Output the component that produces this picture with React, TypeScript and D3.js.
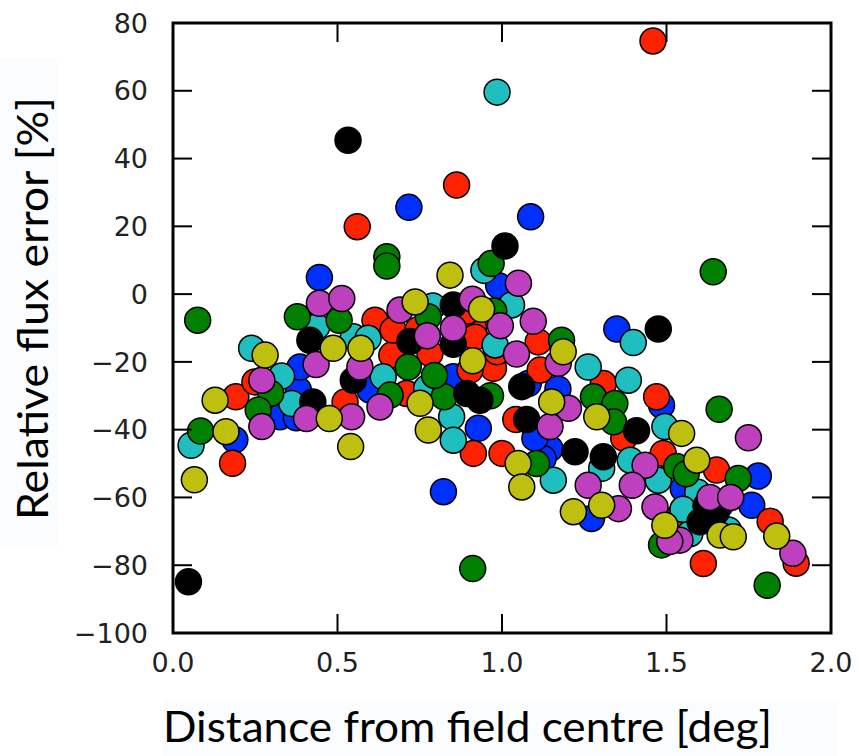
import { useEffect, useRef } from 'react';
import * as d3 from 'd3';

// ticks
const xTicks = [0, 0.5, 1.0, 1.5, 2.0];
const xTickLabels = ['0.0', '0.5', '1.0', '1.5', '2.0'];
const yTicks = [-100, -80, -60, -40, -20, 0, 20, 40, 60, 80];
const yTickLabels = ['−100', '−80', '−60', '−40', '−20', '0', '20', '40', '60', '80'];

// [distance deg, relative flux error %] per field colour
const blue: [number, number][] = [
  [0.717, 25.6], [0.445, 4.9], [1.087, 22.8], [1.349, -10.3], [0.822, -58.3],
  [0.188, -43.0], [0.325, -36.2], [0.381, -28.3], [0.386, -21.5], [0.928, -39.6],
  [0.852, -24.4], [0.99, 2.5], [1.17, -28.0], [1.08, -26.4], [1.485, -32.8],
  [1.146, -45.6], [1.551, -57.4], [1.779, -53.7], [1.759, -62.3], [1.272, -66.2],
  [0.599, -28.3], [1.125, -48.5], [1.1, -42.5], [0.375, -36.5],
];
const red: [number, number][] = [
  [1.459, 74.7], [0.862, 32.2], [0.56, 19.9], [1.612, -79.5], [1.894, -79.4],
  [1.815, -67.0], [1.652, -51.9], [0.181, -49.9], [0.191, -30.3], [0.249, -25.9],
  [0.523, -31.8], [0.71, -29.3], [0.913, -47.0], [0.974, -21.9], [0.903, -22.4],
  [0.781, -17.5], [0.665, -18.0], [0.614, -7.7], [0.669, -10.6], [0.913, -9.6],
  [0.918, -12.7], [1.042, -37.0], [1.11, -14.1], [1.116, -22.4], [1.308, -26.4],
  [1.47, -30.3], [1.37, -42.5], [1.0, -47.0], [1.49, -47.0], [1.54, -65.5],
  [0.895, -5.0], [0.745, -10.5], [0.985, -17.0],
];
const cyan: [number, number][] = [
  [0.985, 59.6], [1.399, -14.3], [0.055, -44.6], [0.239, -16.0], [0.33, -24.2],
  [0.361, -32.3], [0.437, -9.6], [0.548, -12.6], [0.593, -13.0], [0.639, -24.4],
  [0.771, -27.8], [0.847, -36.2], [0.852, -43.1], [0.945, 7.0], [1.029, -3.2],
  [0.79, -3.5], [0.979, -15.0], [1.262, -21.5], [1.384, -25.4], [1.495, -39.1],
  [1.303, -51.4], [1.156, -54.9], [1.475, -54.9], [1.571, -70.7], [1.688, -69.6],
  [1.39, -49.0], [1.595, -58.5], [1.55, -63.5],
];
const green: [number, number][] = [
  [0.65, 11.0], [0.65, 8.3], [0.075, -7.7], [0.967, 9.0], [1.642, 6.6],
  [1.66, -34.0], [1.806, -85.9], [1.718, -54.4], [0.911, -81.0], [0.084, -40.4],
  [0.297, -29.3], [0.259, -34.2], [0.378, -6.7], [0.505, -7.7], [0.66, -29.8],
  [0.824, -30.3], [0.776, -6.7], [0.975, -5.0], [0.715, -21.5], [1.181, -13.6],
  [1.278, -30.3], [1.343, -32.3], [1.339, -37.7], [1.105, -50.0], [1.531, -50.9],
  [1.485, -74.0], [1.56, -53.0], [0.965, -30.0], [0.795, -24.0],
];
const black: [number, number][] = [
  [0.532, 45.4], [1.009, 14.2], [1.475, -10.3], [0.047, -84.9], [0.416, -13.6],
  [0.425, -31.8], [0.548, -25.4], [0.852, -3.2], [0.852, -14.8], [0.933, -31.3],
  [0.72, -14.0], [1.075, -37.0], [1.06, -27.3], [1.409, -40.3], [1.222, -46.5],
  [1.308, -48.0], [1.652, -64.2], [1.602, -67.2], [1.62, -62.5], [1.665, -62.0],
  [0.893, -29.3],
];
const magenta: [number, number][] = [
  [1.749, -42.4], [1.884, -76.5], [0.27, -25.4], [0.27, -39.1], [0.435, -20.8],
  [0.406, -36.7], [0.543, -36.2], [0.445, -2.7], [0.513, -1.3], [0.568, -21.5],
  [0.629, -33.3], [0.69, -4.7], [0.852, -10.1], [0.91, -1.5], [1.05, 3.2],
  [0.995, -9.3], [1.044, -17.7], [0.773, -12.3], [1.095, -8.0], [1.171, -20.4],
  [1.202, -33.7], [1.146, -39.1], [1.262, -56.4], [1.435, -50.5], [1.396, -56.4],
  [1.632, -60.0], [1.695, -60.0], [1.354, -63.3], [1.465, -62.8], [1.541, -72.6],
  [1.51, -73.0],
];
const yellow: [number, number][] = [
  [0.161, -40.6], [0.065, -54.8], [0.128, -31.3], [0.28, -18.0], [0.475, -36.7],
  [0.54, -45.0], [0.487, -16.0], [0.571, -16.0], [0.776, -40.1], [0.911, -19.7],
  [0.842, 5.6], [0.938, -4.5], [0.751, -32.2], [0.736, -2.3], [1.186, -17.0],
  [1.151, -31.8], [1.288, -36.2], [1.546, -41.1], [1.049, -50.0], [1.06, -56.9],
  [1.592, -49.0], [1.217, -64.2], [1.303, -62.3], [1.495, -68.2], [1.663, -71.1],
  [1.703, -71.6], [1.835, -71.4],
];

const series = [
  { points: blue, color: '#0030ff' },
  { points: red, color: '#ff2200' },
  { points: cyan, color: '#20bfbf' },
  { points: green, color: '#008000' },
  { points: black, color: '#000000' },
  { points: magenta, color: '#bf40bf' },
  { points: yellow, color: '#bfbf10' },
];

const Chart = () => {
  const ref = useRef<SVGSVGElement>(null);

  useEffect(() => {
    const svg = d3.select(ref.current);
    svg.selectAll('*').remove();

    const width = 860;
    const height = 756;
    const left = 173;
    const right = 831;
    const top = 23;
    const bottom = 633;
    const tickLen = 19;

    svg.attr('width', width).attr('height', height);

    const x = d3.scaleLinear().domain([0, 2]).range([left, right]);
    const y = d3.scaleLinear().domain([-100, 80]).range([bottom, top]);

    svg.append('rect').attr('width', width).attr('height', height).attr('fill', '#fff');
    // faint boxes behind the pasted axis titles
    svg.append('rect').attr('x', 0).attr('y', 58).attr('width', 57).attr('height', 490).attr('fill', '#fbfcfe');
    svg.append('rect').attr('x', 163).attr('y', 700).attr('width', 675).attr('height', 56).attr('fill', '#fbfcfe');

    // points
    series.forEach((s) => {
      svg.append('g')
        .selectAll('circle')
        .data(s.points)
        .enter()
        .append('circle')
        .attr('cx', (d) => x(d[0]))
        .attr('cy', (d) => y(d[1]))
        .attr('r', 13)
        .attr('fill', s.color)
        .attr('stroke', '#000')
        .attr('stroke-width', 1.5);
    });

    // frame
    svg.append('rect')
      .attr('x', left)
      .attr('y', top)
      .attr('width', right - left)
      .attr('height', bottom - top)
      .attr('fill', 'none')
      .attr('stroke', '#000')
      .attr('stroke-width', 3);

    const ticks = svg.append('g').attr('stroke', '#000').attr('stroke-width', 2);
    xTicks.forEach((t) => {
      ticks.append('line').attr('x1', x(t)).attr('x2', x(t)).attr('y1', bottom).attr('y2', bottom - tickLen);
      ticks.append('line').attr('x1', x(t)).attr('x2', x(t)).attr('y1', top).attr('y2', top + tickLen);
    });
    yTicks.forEach((t) => {
      ticks.append('line').attr('x1', left).attr('x2', left + tickLen).attr('y1', y(t)).attr('y2', y(t));
      ticks.append('line').attr('x1', right).attr('x2', right - tickLen).attr('y1', y(t)).attr('y2', y(t));
    });

    const font = '"DejaVu Sans", sans-serif';
    svg.append('g')
      .selectAll('text')
      .data(xTicks)
      .enter()
      .append('text')
      .attr('x', (d) => x(d))
      .attr('y', 672)
      .attr('text-anchor', 'middle')
      .style('font-family', font)
      .style('font-size', '27px')
      .attr('fill', '#222')
      .text((d, i) => xTickLabels[i]);

    svg.append('g')
      .selectAll('text')
      .data(yTicks)
      .enter()
      .append('text')
      .attr('x', 148)
      .attr('y', (d) => y(d))
      .attr('dy', '0.36em')
      .attr('text-anchor', 'end')
      .style('font-family', font)
      .style('font-size', '27px')
      .attr('fill', '#222')
      .text((d, i) => yTickLabels[i]);

    const titleFont = 'Lato, "Open Sans", sans-serif';
    svg.append('text')
      .attr('x', 467.5)
      .attr('y', 742)
      .attr('text-anchor', 'middle')
      .attr('textLength', 609)
      .attr('lengthAdjust', 'spacingAndGlyphs')
      .style('font-family', titleFont)
      .style('font-size', '42px')
      .attr('fill', '#000')
      .text('Distance from field centre [deg]');

    svg.append('text')
      .attr('transform', 'translate(48,308.5) rotate(-90)')
      .attr('text-anchor', 'middle')
      .attr('textLength', 423)
      .attr('lengthAdjust', 'spacingAndGlyphs')
      .style('font-family', titleFont)
      .style('font-size', '42px')
      .attr('fill', '#000')
      .text('Relative flux error [%]');
  }, []);

  return <svg ref={ref} style={{ position: 'absolute', left: 0, top: 0 }}></svg>;
};

export default function App() {
  return <Chart />;
}
